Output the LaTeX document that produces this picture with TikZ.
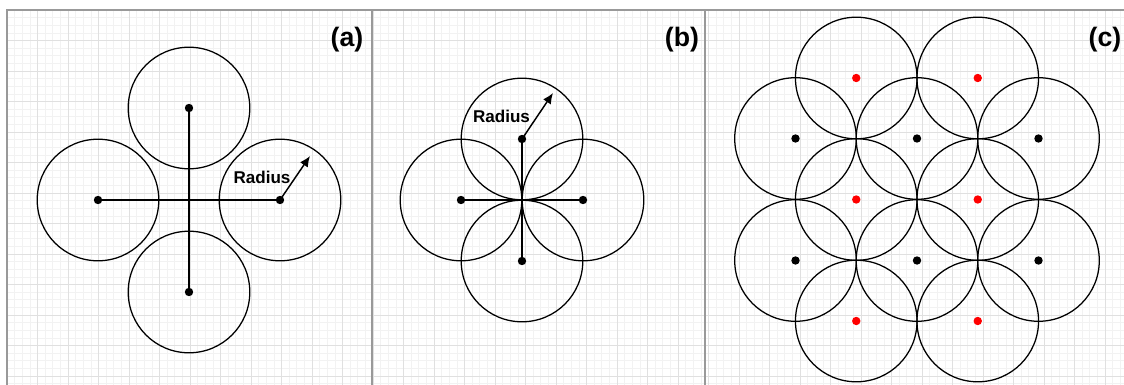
\documentclass[tikz,border=0pt]{standalone}
\usepackage{fontspec}
\setmainfont{Liberation Sans}
\usetikzlibrary{arrows.meta}
\begin{document}
\begin{tikzpicture}[x=0.75pt,y=-0.75pt,
  minorgrid/.style={draw=black!5,line width=0.5pt},
  majorgrid/.style={draw=black!12,line width=0.6pt},
  frameline/.style={draw=black!40,line width=1.5pt},
  ring/.style={circle,draw=black,line width=0.95pt,minimum size=91.2pt,inner sep=0pt},
  dot/.style={circle,fill=black,minimum size=6.3pt,inner sep=0pt},
  reddot/.style={circle,fill=red,minimum size=6.3pt,inner sep=0pt},
  link/.style={draw=black,line width=1.1pt},
  radarrow/.style={draw=black,line width=1.1pt,-{Latex[length=8pt,width=7pt]}},
  radlbl/.style={font=\fontsize{12.8}{14}\selectfont\bfseries,inner sep=0pt},
  panellbl/.style={font=\fontsize{20}{24}\selectfont\bfseries,inner sep=0pt}]
\useasboundingbox (0,0) rectangle (1124,385);
\fill[white] (0,0) rectangle (1124,385);
% grid
\foreach \i in {0,...,147} {\draw[minorgrid] ({7+7.625*\i},10) -- ({7+7.625*\i},385);}
\foreach \j in {0,...,49} {\draw[minorgrid] (7,{10+7.625*\j}) -- (1124,{10+7.625*\j});}
\foreach \i in {0,...,36} {\draw[majorgrid] ({7+30.5*\i},10) -- ({7+30.5*\i},385);}
\foreach \j in {0,...,12} {\draw[majorgrid] (7,{10+30.5*\j}) -- (1124,{10+30.5*\j});}
% frame
\draw[frameline] (7,385) -- (7,10) -- (1124,10);
\draw[frameline] (371.5,10) -- (371.5,385);
\draw[frameline] (704.5,10) -- (704.5,385);

% ---------- panel (a)
\node[ring] (caT) at (189,108) {};
\node[ring] (caL) at (98,200) {};
\node[ring] (caR) at (280,200) {};
\node[ring] (caB) at (189,292) {};
\node[dot] (aT) at (189,108) {};
\node[dot] (aL) at (98,200) {};
\node[dot] (aR) at (280,200) {};
\node[dot] (aB) at (189,292) {};
\draw[link] (aL.center) -- (aR.center);
\draw[link] (aT.center) -- (aB.center);
\coordinate (aTip) at (310,156);
\draw[radarrow] (aR.center) -- (aTip);
\node[radlbl] (aLab) at (262,177) {Radius};
\node[panellbl] (aName) at (347,40) {(a)};

% ---------- panel (b)
\node[ring] (cbT) at (522,139) {};
\node[ring] (cbL) at (461,200) {};
\node[ring] (cbR) at (583,200) {};
\node[ring] (cbB) at (522,261) {};
\node[dot] (bT) at (522,139) {};
\node[dot] (bL) at (461,200) {};
\node[dot] (bR) at (583,200) {};
\node[dot] (bB) at (522,261) {};
\draw[link] (bL.center) -- (bR.center);
\draw[link] (bT.center) -- (bB.center);
\coordinate (bTip) at (553,93);
\draw[radarrow] (bT.center) -- (bTip);
\node[radlbl] (bLab) at (501.5,116.5) {Radius};
\node[panellbl] (bName) at (682,40) {(b)};

% ---------- panel (c)
\foreach \n/\px/\py in {k1/795.5/138.5,k2/917/138.5,k3/1038.5/138.5,k4/795.5/260.5,k5/917/260.5,k6/1038.5/260.5}{
  \node[ring] (c\n) at (\px,\py) {};
  \node[dot] (\n) at (\px,\py) {};
}
\foreach \n/\px/\py in {r1/856.25/78,r2/977.75/78,r3/856.25/199.5,r4/977.75/199.5,r5/856.25/321,r6/977.75/321}{
  \node[ring] (c\n) at (\px,\py) {};
  \node[reddot] (\n) at (\px,\py) {};
}
\node[panellbl] (cName) at (1105,40) {(c)};
\end{tikzpicture}
\end{document}
